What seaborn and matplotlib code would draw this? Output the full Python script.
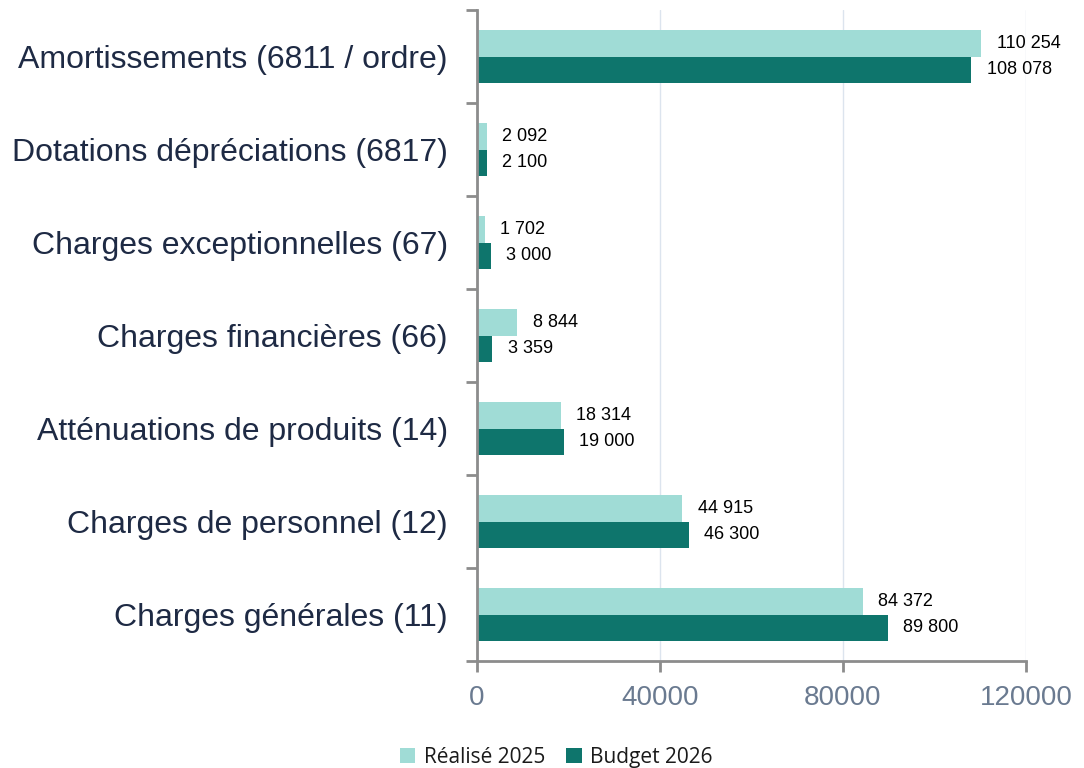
import matplotlib
matplotlib.use("Agg")
import matplotlib.pyplot as plt
import numpy as np
import pandas as pd
import seaborn as sns
from matplotlib.ticker import FixedLocator

# Chapitres budgétaires (de haut en bas)
categories = [
    'Amortissements (6811 / ordre)',
    'Dotations dépréciations (6817)',
    'Charges exceptionnelles (67)',
    'Charges financières (66)',
    'Atténuations de produits (14)',
    'Charges de personnel (12)',
    'Charges générales (11)',
]
realise_2025 = [110254, 2092, 1702, 8844, 18314, 44915, 84372]
budget_2026 = [108078, 2100, 3000, 3359, 19000, 46300, 89800]
series = ['Réalisé 2025', 'Budget 2026']
x_ticks = [0, 40000, 80000, 120000]

colors = {'Réalisé 2025': '#A0DCD6', 'Budget 2026': '#0E756C'}

df = pd.DataFrame({
    'Chapitre': categories * 2,
    'Montant': realise_2025 + budget_2026,
    'Série': [series[0]] * len(categories) + [series[1]] * len(categories),
})

sns.set_style('white')
plt.rcParams['font.family'] = ['Liberation Sans', 'DejaVu Sans']

fig = plt.figure(figsize=(10.84, 7.68), dpi=100)
ax = fig.add_axes([0.44, 0.139, 0.5065, 0.848])

sns.barplot(data=df, y='Chapitre', x='Montant', hue='Série', orient='h',
            palette=colors, width=0.57, gap=0, dodge=True, ax=ax,
            errorbar=None, saturation=1, legend=True, linewidth=0)

# value labels with space as thousands separator
for cont, vals in zip(ax.containers, [realise_2025, budget_2026]):
    ax.bar_label(cont, labels=[f'{v:,}'.replace(',', ' ') for v in vals],
                 padding=11, fontsize=13, color='black')

ax.set_xlim(0, 120000)
ax.set_xticks(x_ticks)
ax.set_xticklabels([str(t) for t in x_ticks])
ax.set_xlabel('')
ax.set_ylabel('')

ax.grid(axis='x', color='#DCE4EE', linewidth=1)
ax.set_axisbelow(True)

for s in ['top', 'right']:
    ax.spines[s].set_visible(False)
for s in ['left', 'bottom']:
    ax.spines[s].set_color('#8C8C8C')
    ax.spines[s].set_linewidth(2)

ax.tick_params(axis='x', which='major', direction='out', length=8, width=2,
               color='#8C8C8C', labelsize=20, labelcolor='#6A7A90', pad=9,
               bottom=True)
ax.tick_params(axis='y', which='major', length=0, labelsize=23,
               labelcolor='#1E2A44', pad=21)
ax.yaxis.set_minor_locator(FixedLocator(np.arange(-0.5, len(categories), 1.0)))
ax.tick_params(axis='y', which='minor', direction='out', length=8, width=2,
               color='#8C8C8C', left=True)

handles, labels = ax.get_legend_handles_labels()
ax.get_legend().remove()
leg = fig.legend(handles, labels, loc='lower center',
                 bbox_to_anchor=(0.513, -0.024), ncol=2,
                 frameon=False, handlelength=0.75, handleheight=0.75,
                 handletextpad=0.4, columnspacing=1.0,
                 prop={'family': 'Open Sans', 'size': 15})
for t in leg.get_texts():
    t.set_color('#1A1A1A')

fig.savefig('out.png', dpi=100)
